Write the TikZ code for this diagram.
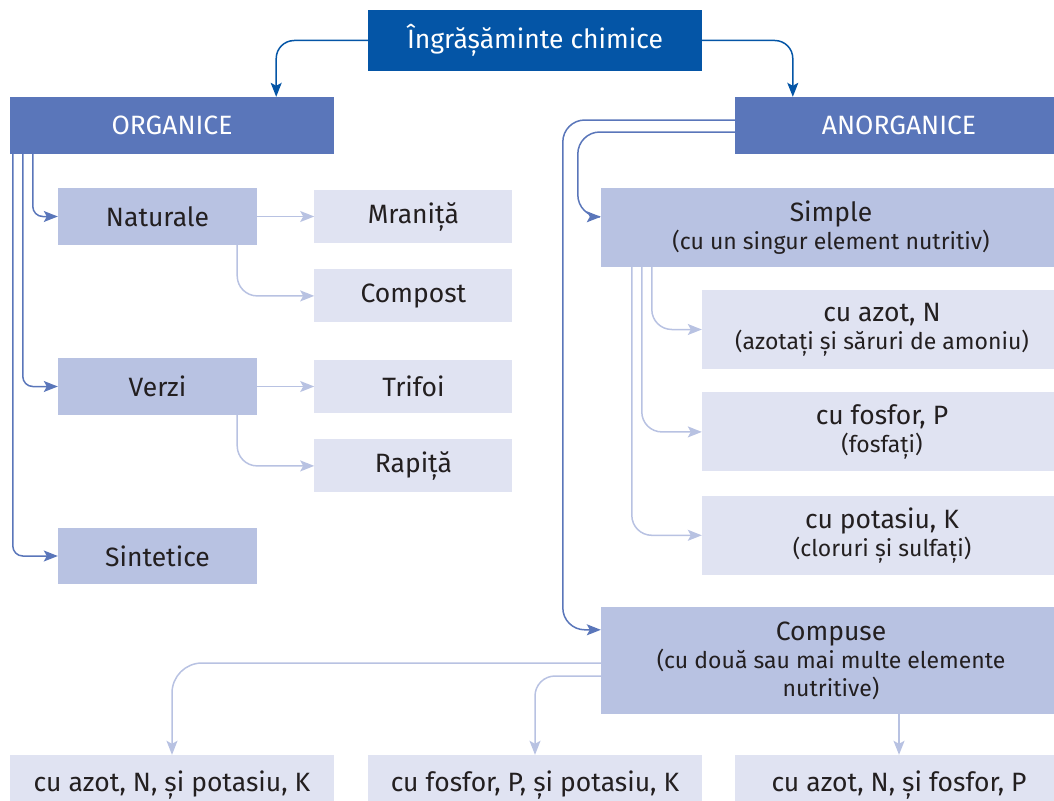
\documentclass[tikz,border=0pt]{standalone}
\usepackage{fontspec}
\setmainfont{Fira Sans}
\usepackage{xcolor}
\usetikzlibrary{positioning, arrows.meta, calc}
\definecolor{topblue}{HTML}{0455A6}
\definecolor{midblue}{HTML}{5A76BA}
\definecolor{lightblue}{HTML}{B8C2E2}
\definecolor{paleblue}{HTML}{E0E3F2}
\definecolor{inkgray}{HTML}{231F20}
\newcommand{\notesize}{\fontsize{23}{28}\selectfont}

\begin{document}
\begin{tikzpicture}[x=1pt, y=-1pt, font=\fontsize{26.5}{28}\selectfont,
  node distance=26pt,
  headbox/.style={fill=topblue, text=white, inner sep=0pt, minimum width=334pt, minimum height=61pt, align=center},
  groupbox/.style={fill=midblue, text=white, inner sep=0pt, minimum height=57pt, align=center},
  kindbox/.style={fill=lightblue, text=inkgray, inner sep=0pt, align=center},
  leafbox/.style={fill=paleblue, text=inkgray, inner sep=0pt, align=center},
  darkarrow/.style={-{Stealth[length=14pt,width=11pt,inset=3pt]}, line width=1.5pt, topblue, rounded corners=18pt},
  midarrow/.style={-{Stealth[length=14pt,width=11pt,inset=3pt]}, line width=1.5pt, midblue, rounded corners=10pt},
  lightarrow/.style={-{Stealth[length=14pt,width=11pt,inset=3pt]}, line width=1.5pt, lightblue, rounded corners=20pt}]
  \useasboundingbox (0,0) rectangle (1054,800);
  \clip (0,0) rectangle (1054,800);

  \node[headbox] (top) at (535,40.5) {Îngrășăminte chimice};
  \node[groupbox, minimum width=324pt] (org) at (172,125.5) {ORGANICE};
  \node[groupbox, minimum width=328pt] (anorg) at (899,125.5) {ANORGANICE};

  % ramura organica
  \node[kindbox, minimum width=199pt, minimum height=57pt] (nat) at (157.5,216.5) {Naturale};
  \node[leafbox, minimum width=198pt, minimum height=53pt, right=57pt of nat] (mranita) {Mraniță};
  \node[leafbox, minimum width=198pt, minimum height=53pt, below=26pt of mranita] (compost) {Compost};
  \node[kindbox, minimum width=199pt, minimum height=57pt] (verzi) at (157.5,386.5) {Verzi};
  \node[leafbox, minimum width=198pt, minimum height=53pt, right=57pt of verzi] (trifoi) {Trifoi};
  \node[leafbox, minimum width=198pt, minimum height=53pt, below=26pt of trifoi] (rapita) {Rapiță};
  \node[kindbox, minimum width=199pt, minimum height=56pt] (sint) at (157.5,556) {Sintetice};

  % ramura anorganica
  \node[kindbox, minimum width=460pt, minimum height=79pt] (simple) at (831,227.5)
    {Simple\\{\notesize (cu un singur element nutritiv)}};
  \node[leafbox, minimum width=360pt, minimum height=79pt] (azot) at (882,329.5)
    {cu azot, N\\{\notesize (azotați și săruri de amoniu)}};
  \node[leafbox, minimum width=360pt, minimum height=79pt, below=23pt of azot] (fosfor)
    {cu fosfor, P\\{\notesize (fosfați)}};
  \node[leafbox, minimum width=360pt, minimum height=79pt, below=24pt of fosfor] (potasiu)
    {cu potasiu, K\\{\notesize (cloruri și sulfați)}};
  \node[kindbox, minimum width=460pt, minimum height=107pt] (compuse) at (831,660.5)
    {Compuse\\{\notesize (cu două sau mai multe elemente}\\{\notesize nutritive)}};
  \node[leafbox, minimum width=324pt, minimum height=60pt] (nk) at (172,785) {cu azot, N, și potasiu, K};
  \node[leafbox, minimum width=334pt, minimum height=60pt] (pk) at (535,785) {cu fosfor, P, și potasiu, K};
  \node[leafbox, minimum width=328pt, minimum height=60pt] (np) at (899,785) {cu azot, N, și fosfor, P};

  \draw[darkarrow] (top.west) -| ([xshift=-58pt]org.north east);
  \draw[darkarrow] (top.east) -| ([xshift=58pt]anorg.north west);

  \draw[midarrow] ([xshift=23pt]org.south west) |- (nat.west);
  \draw[midarrow] ([xshift=13pt]org.south west) |- (verzi.west);
  \draw[midarrow] ([xshift=3pt]org.south west) |- (sint.west);

  \draw[lightarrow] (nat) -- (mranita);
  \draw[lightarrow] ([xshift=-20pt]nat.south east) |- (compost.west);
  \draw[lightarrow] (verzi) -- (trifoi);
  \draw[lightarrow] ([xshift=-20pt]verzi.south east) |- (rapita.west);

  \draw[midarrow, rounded corners=22pt] ([yshift=-6.5pt]anorg.west) -| ([xshift=-23pt,yshift=-29pt]simple.north west)
    [rounded corners=10pt] -- ([yshift=-29pt]simple.north west);
  \draw[midarrow, rounded corners=22pt] ([yshift=5.5pt]anorg.west) -| ([xshift=-38pt,yshift=-23pt]compuse.north west)
    [rounded corners=10pt] -- ([yshift=-23pt]compuse.north west);

  \draw[lightarrow] ([xshift=51pt]simple.south west) |- (azot.west);
  \draw[lightarrow] ([xshift=41pt]simple.south west) |- (fosfor.west);
  \draw[lightarrow] ([xshift=31pt]simple.south west) |- (potasiu.west);

  \draw[lightarrow, rounded corners=30pt] ([yshift=-2.5pt]compuse.west) -| (nk.north);
  \draw[lightarrow] ([yshift=-15.5pt]compuse.west) -| (pk.north);
  \draw[lightarrow] (np.north |- compuse.south) -- (np.north);
\end{tikzpicture}
\end{document}
